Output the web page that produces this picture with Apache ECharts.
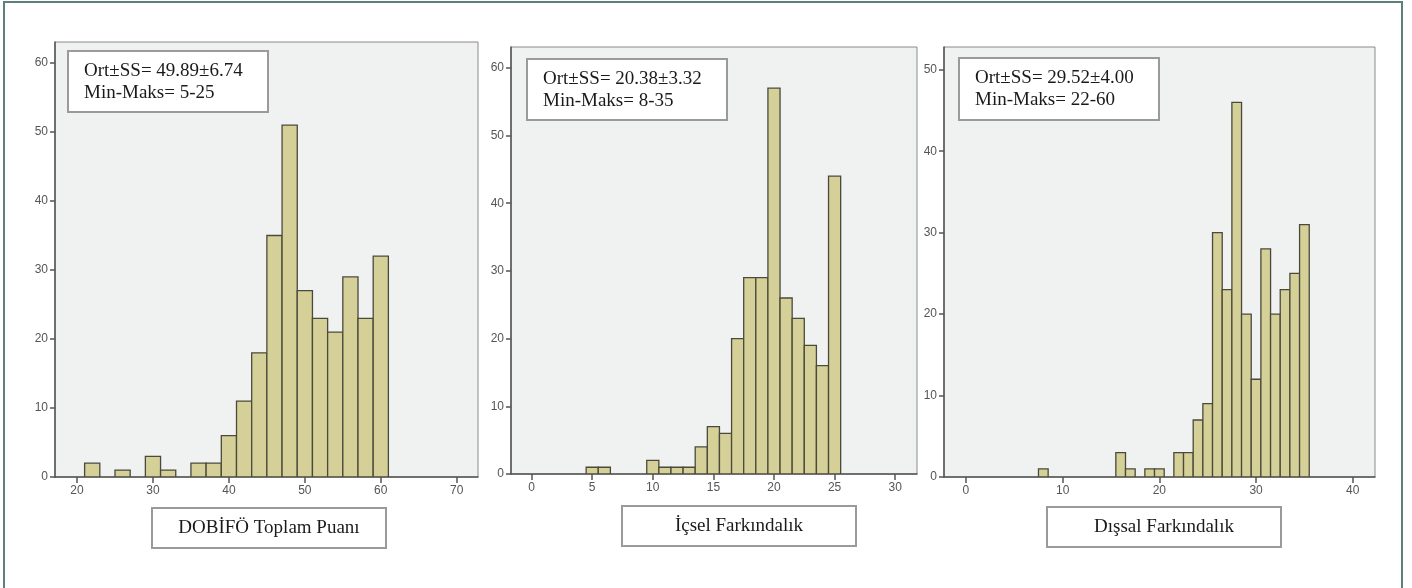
<!DOCTYPE html>
<html>
<head>
<meta charset="utf-8">
<script src="https://cdn.jsdelivr.net/npm/echarts@6/dist/echarts.min.js"></script>
<style>
html,body{margin:0;padding:0;background:#fff;}
#c{width:1412px;height:588px;}
</style>
</head>
<body>
<div id="c"></div>
<script>
// ---- Data ----
// Panel 1: DOBİFÖ Toplam Puanı, bin width 2 (bin centers)
const p1Centers = [22, 26, 30, 32, 36, 38, 40, 42, 44, 46, 48, 50, 52, 54, 56, 58, 60];
const p1Counts  = [2, 1, 3, 1, 2, 2, 6, 11, 18, 35, 51, 27, 23, 21, 29, 23, 32];
const p1BinWidth = 2;
const p1XTicks = [20, 30, 40, 50, 60, 70];
const p1YTicks = [0, 10, 20, 30, 40, 50, 60];

// Panel 2: İçsel Farkındalık, bin width 1
const p2Centers = [5, 6, 10, 11, 12, 13, 14, 15, 16, 17, 18, 19, 20, 21, 22, 23, 24, 25];
const p2Counts  = [1, 1, 2, 1, 1, 1, 4, 7, 6, 20, 29, 29, 57, 26, 23, 19, 16, 44];
const p2BinWidth = 1;
const p2XTicks = [0, 5, 10, 15, 20, 25, 30];
const p2YTicks = [0, 10, 20, 30, 40, 50, 60];

// Panel 3: Dışsal Farkındalık, bin width 1
const p3Centers = [8, 16, 17, 19, 20, 22, 23, 24, 25, 26, 27, 28, 29, 30, 31, 32, 33, 34, 35];
const p3Counts  = [1, 3, 1, 1, 1, 3, 3, 7, 9, 30, 23, 46, 20, 12, 28, 20, 23, 25, 31];
const p3BinWidth = 1;
const p3XTicks = [0, 10, 20, 30, 40];
const p3YTicks = [0, 10, 20, 30, 40, 50];

const statTexts = [
  ['Ort±SS= 49.89±6.74', 'Min-Maks= 5-25'],
  ['Ort±SS= 20.38±3.32', 'Min-Maks= 8-35'],
  ['Ort±SS= 29.52±4.00', 'Min-Maks= 22-60']
];
const axisTitles = ['DOBİFÖ Toplam Puanı', 'İçsel Farkındalık', 'Dışsal Farkındalık'];

// ---- Layout / style ----
const panels = [
  {centers: p1Centers, counts: p1Counts, bw: p1BinWidth, xt: p1XTicks, yt: p1YTicks,
   grid: {left: 55, top: 42, width: 423, height: 435}, xmin: 17.1, xmax: 72.8, ymax: 63.05,
   stat: {x: 68, y: 51, w: 200, h: 61}, title: {x: 152, y: 508, w: 234, h: 40}},
  {centers: p2Centers, counts: p2Counts, bw: p2BinWidth, xt: p2XTicks, yt: p2YTicks,
   grid: {left: 511, top: 47, width: 406, height: 427}, xmin: -1.7, xmax: 31.8, ymax: 63.08,
   stat: {x: 527, y: 59, w: 200, h: 61}, title: {x: 622, y: 506, w: 234, h: 40}},
  {centers: p3Centers, counts: p3Counts, bw: p3BinWidth, xt: p3XTicks, yt: p3YTicks,
   grid: {left: 944, top: 47, width: 431, height: 430}, xmin: -2.27, xmax: 42.3, ymax: 52.8,
   stat: {x: 959, y: 58, w: 200, h: 62}, title: {x: 1047, y: 507, w: 234, h: 40}}
];

const barFill = '#d4d098';
const barStroke = '#4a4a3c';
const axisColor = '#555555';
const labelColor = '#555555';
const serif = '"Liberation Serif", "Times New Roman", serif';
const sans = 'Arial, "Liberation Sans", sans-serif';

const grids = [], xAxes = [], yAxes = [], series = [], graphics = [];

// outer frame
graphics.push({type: 'rect', shape: {x: 4, y: 2, width: 1398, height: 600},
  style: {fill: 'none', stroke: '#5d807c', lineWidth: 2}, z: 100});

panels.forEach((p, i) => {
  grids.push(Object.assign({show: true, backgroundColor: '#f0f1f1', borderColor: '#8a8a8a', borderWidth: 1}, p.grid));
  xAxes.push({
    type: 'value', gridIndex: i, min: p.xmin, max: p.xmax, position: 'bottom',
    splitLine: {show: false},
    axisLine: {show: true, onZero: false, lineStyle: {color: axisColor, width: 1.5}},
    axisTick: {show: true, length: 6, customValues: p.xt, lineStyle: {color: axisColor, width: 1.5}},
    axisLabel: {customValues: p.xt, color: labelColor, fontFamily: sans, fontSize: 12, margin: 8}
  });
  yAxes.push({
    type: 'value', gridIndex: i, min: 0, max: p.ymax, position: 'left',
    splitLine: {show: false},
    axisLine: {show: true, onZero: false, lineStyle: {color: axisColor, width: 1.5}},
    axisTick: {show: true, length: 5, customValues: p.yt, lineStyle: {color: axisColor, width: 1.5}},
    axisLabel: {customValues: p.yt, color: labelColor, fontFamily: sans, fontSize: 12, margin: 7}
  });
  const data = p.centers.map((c, k) => [c - p.bw / 2, c + p.bw / 2, p.counts[k]]);
  series.push({
    type: 'custom', xAxisIndex: i, yAxisIndex: i, data: data,
    clip: true,
    renderItem: function (params, api) {
      const a = api.coord([api.value(0), api.value(2)]);
      const b = api.coord([api.value(1), 0]);
      return {type: 'rect', shape: {x: a[0], y: a[1], width: b[0] - a[0], height: b[1] - a[1]},
        style: {fill: barFill, stroke: barStroke, lineWidth: 1.3}};
    },
    encode: {x: [0, 1], y: 2}
  });
  // stats box
  graphics.push({type: 'rect', shape: {x: p.stat.x, y: p.stat.y, width: p.stat.w, height: p.stat.h},
    style: {fill: '#ffffff', stroke: '#9a9a9a', lineWidth: 2}, z: 50});
  graphics.push({type: 'text', x: p.stat.x + 16, y: p.stat.y + 9, z: 51,
    style: {text: statTexts[i].join('\n'), font: '19px ' + serif, lineHeight: 22, fill: '#1a1a1a'}});
  // axis title box
  graphics.push({type: 'rect', shape: {x: p.title.x, y: p.title.y, width: p.title.w, height: p.title.h},
    style: {fill: '#ffffff', stroke: '#9a9a9a', lineWidth: 2}, z: 50});
  graphics.push({type: 'text', x: p.title.x + p.title.w / 2, y: p.title.y + p.title.h / 2, z: 51,
    style: {text: axisTitles[i], font: '19px ' + serif, fill: '#1a1a1a', align: 'center', verticalAlign: 'middle'}});
});

const chart = echarts.init(document.getElementById('c'), null, {renderer: 'canvas'});
chart.setOption({
  animation: false,
  grid: grids, xAxis: xAxes, yAxis: yAxes, series: series, graphic: graphics
});
</script>
</body>
</html>
